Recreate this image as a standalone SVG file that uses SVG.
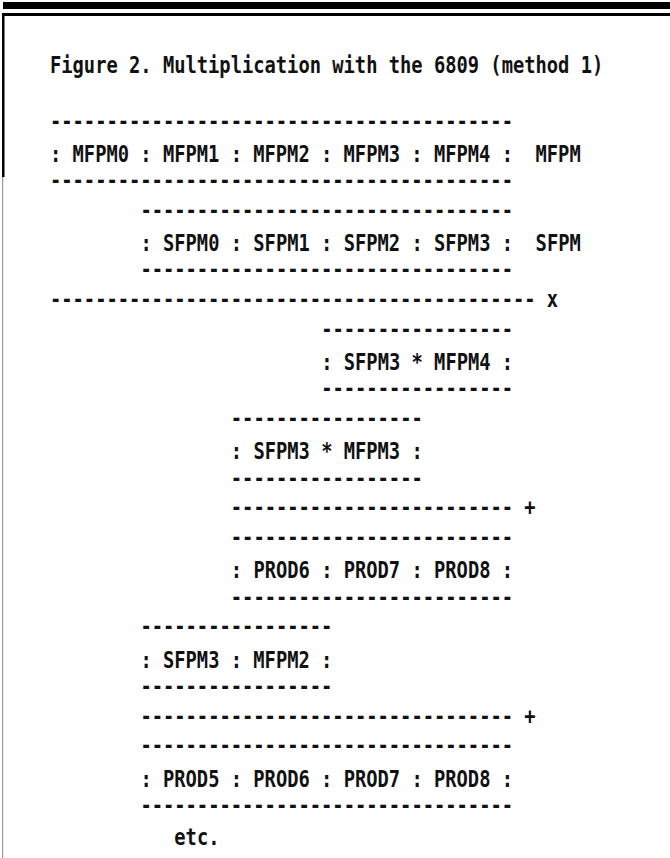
<svg xmlns="http://www.w3.org/2000/svg" width="670" height="858" viewBox="0 0 670 858" xml:space="preserve">
<style>
text{font-family:"DejaVu Sans Mono","Liberation Mono",monospace;font-size:18.77px;font-weight:bold;fill:#111;white-space:pre}
</style>
<rect width="670" height="858" fill="#fff"/>
<g id="frame">
<rect x="3" y="2" width="667" height="7" fill="#000"/>
<rect x="3" y="13" width="667" height="3" fill="#000"/>
<rect x="2" y="13" width="2.5" height="164" fill="#000"/>
<rect x="2" y="177" width="1.2" height="681" fill="#999"/>
</g>
<g id="title">
<text transform="translate(50,72.5) scale(1,1.24)">Figure 2. Multiplication with the 6809 (method 1)</text>
</g>
<g id="mfpm">
<text transform="translate(50,128.5) scale(1,1.24)">-----------------------------------------</text>
<text transform="translate(50,161.75) scale(1,1.24)">: MFPM0 : MFPM1 : MFPM2 : MFPM3 : MFPM4 :  MFPM</text>
<text transform="translate(50,188) scale(1,1.24)">-----------------------------------------</text>
</g>
<g id="sfpm">
<text transform="translate(140.4,217.75) scale(1,1.24)">---------------------------------</text>
<text transform="translate(140.4,251) scale(1,1.24)">: SFPM0 : SFPM1 : SFPM2 : SFPM3 :  SFPM</text>
<text transform="translate(140.4,277.25) scale(1,1.24)">---------------------------------</text>
</g>
<g id="connectors">
<text id="rule-x" transform="translate(50,307) scale(1,1.24)">------------------------------------------- x</text>
<text id="rule-plus-1" transform="translate(230.8,515.25) scale(1,1.24)">------------------------- +</text>
<text id="rule-plus-2" transform="translate(140.4,723.5) scale(1,1.24)">--------------------------------- +</text>
</g>
<g id="p34">
<text transform="translate(321.2,336.75) scale(1,1.24)">-----------------</text>
<text transform="translate(321.2,370) scale(1,1.24)">: SFPM3 * MFPM4 :</text>
<text transform="translate(321.2,396.25) scale(1,1.24)">-----------------</text>
</g>
<g id="p33">
<text transform="translate(230.8,426) scale(1,1.24)">-----------------</text>
<text transform="translate(230.8,459.25) scale(1,1.24)">: SFPM3 * MFPM3 :</text>
<text transform="translate(230.8,485.5) scale(1,1.24)">-----------------</text>
</g>
<g id="sum1">
<text transform="translate(230.8,545) scale(1,1.24)">-------------------------</text>
<text transform="translate(230.8,578.25) scale(1,1.24)">: PROD6 : PROD7 : PROD8 :</text>
<text transform="translate(230.8,604.5) scale(1,1.24)">-------------------------</text>
</g>
<g id="p32">
<text transform="translate(140.4,634.25) scale(1,1.24)">-----------------</text>
<text transform="translate(140.4,667.5) scale(1,1.24)">: SFPM3 : MFPM2 :</text>
<text transform="translate(140.4,693.75) scale(1,1.24)">-----------------</text>
</g>
<g id="sum2">
<text transform="translate(140.4,753.25) scale(1,1.24)">---------------------------------</text>
<text transform="translate(140.4,786.5) scale(1,1.24)">: PROD5 : PROD6 : PROD7 : PROD8 :</text>
<text transform="translate(140.4,812.75) scale(1,1.24)">---------------------------------</text>
</g>
<g id="etc">
<text transform="translate(174.3,845) scale(1,1.24)">etc.</text>
</g>
</svg>
